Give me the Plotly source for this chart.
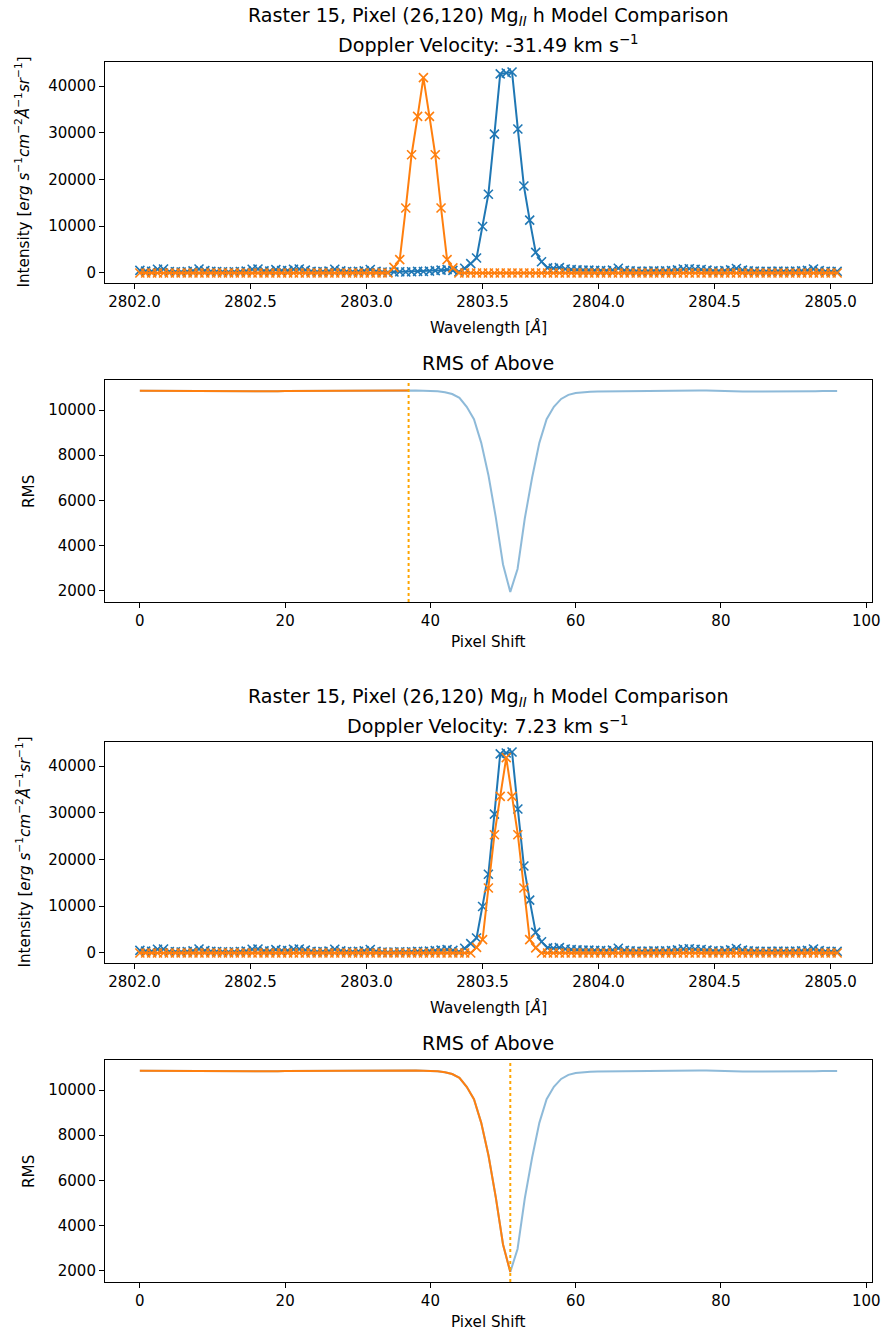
import plotly.graph_objects as go

# ---------------- data ----------------
wavelength = [
    2802.023, 2802.048, 2802.074, 2802.099, 2802.125, 2802.150, 2802.176, 2802.201, 2802.227, 2802.252,
    2802.278, 2802.303, 2802.329, 2802.354, 2802.379, 2802.405, 2802.430, 2802.456, 2802.481, 2802.507,
    2802.532, 2802.558, 2802.583, 2802.609, 2802.634, 2802.660, 2802.685, 2802.710, 2802.736, 2802.761,
    2802.787, 2802.812, 2802.838, 2802.863, 2802.889, 2802.914, 2802.940, 2802.965, 2802.990, 2803.016,
    2803.041, 2803.067, 2803.092, 2803.118, 2803.143, 2803.169, 2803.194, 2803.220, 2803.245, 2803.271,
    2803.296, 2803.321, 2803.347, 2803.372, 2803.398, 2803.423, 2803.449, 2803.474, 2803.500, 2803.525,
    2803.551, 2803.576, 2803.602, 2803.627, 2803.652, 2803.678, 2803.703, 2803.729, 2803.754, 2803.780,
    2803.805, 2803.831, 2803.856, 2803.882, 2803.907, 2803.933, 2803.958, 2803.983, 2804.009, 2804.034,
    2804.060, 2804.085, 2804.111, 2804.136, 2804.162, 2804.187, 2804.213, 2804.238, 2804.263, 2804.289,
    2804.314, 2804.340, 2804.365, 2804.391, 2804.416, 2804.442, 2804.467, 2804.493, 2804.518, 2804.544,
    2804.569, 2804.594, 2804.620, 2804.645, 2804.671, 2804.696, 2804.722, 2804.747, 2804.773, 2804.798,
    2804.824, 2804.849, 2804.875, 2804.900, 2804.926, 2804.951, 2804.977, 2805.002, 2805.028,
]

observed_intensity = [
    550, 400, 350, 800, 850, 300, 250, 200, 300, 450,
    850, 500, 350, 300, 250, 200, 250, 300, 400, 800,
    850, 450, 400, 700, 500, 500, 800, 850, 600, 350,
    250, 300, 400, 800, 450, 300, 250, 350, 450, 750,
    350, 200, 150, 200, 250, 200, 250, 350, 300, 400,
    500, 600, 700, 550, 250, 1000, 2000, 3200, 9950, 16850,
    29700, 42600, 42800, 43000, 30800, 18600, 11300, 4400, 2400, 1100,
    1000, 1150, 850, 700, 650, 600, 600, 550, 500, 450,
    600, 1000, 550, 450, 400, 350, 400, 450, 400, 450,
    500, 650, 850, 900, 800, 750, 600, 450, 400, 500,
    650, 950, 600, 450, 400, 350, 350, 350, 400, 350,
    350, 400, 450, 550, 850, 500, 350, 300, 350,
]

model_line_core = [1200, 2850, 13900, 25300, 33500, 41800, 33500, 25300, 13900, 2850, 1100]
model_core_start = [43, 57]          # wavelength index of first core sample (top, bottom comparisons)

pixel_shift = list(range(97))
rms_values = [
    10860, 10858, 10855, 10852, 10850, 10848, 10845, 10843, 10845, 10848,
    10850, 10848, 10845, 10838, 10830, 10825, 10822, 10828, 10835, 10842,
    10848, 10850, 10852, 10850, 10848, 10850, 10852, 10855, 10862, 10870,
    10878, 10885, 10890, 10892, 10893, 10890, 10885, 10878, 10872, 10866,
    10860, 10845, 10800, 10720, 10550, 10150, 9600, 8550, 7100, 5250,
    3150, 1930, 2950, 5200, 7000, 8550, 9600, 10150, 10500, 10680,
    10760, 10800, 10820, 10830, 10835, 10840, 10842, 10845, 10848, 10850,
    10855, 10862, 10870, 10878, 10885, 10888, 10886, 10880, 10870, 10858,
    10845, 10835, 10830, 10830, 10833, 10838, 10842, 10845, 10848, 10845,
    10840, 10838, 10840, 10845, 10848, 10850, 10850,
]

chosen_shift = [37, 51]
doppler_velocity = ["-31.49", "7.23"]

intensity_ticks = [0, 10000, 20000, 30000, 40000]
intensity_ticktext = ["0", "10000", "20000", "30000", "40000"]
wave_ticks = [2802.0, 2802.5, 2803.0, 2803.5, 2804.0, 2804.5, 2805.0]
wave_ticktext = ["2802.0", "2802.5", "2803.0", "2803.5", "2804.0", "2804.5", "2805.0"]
rms_ticks = [2000, 4000, 6000, 8000, 10000]
rms_ticktext = ["2000", "4000", "6000", "8000", "10000"]
shift_ticks = [0, 20, 40, 60, 80, 100]
shift_ticktext = ["0", "20", "40", "60", "80", "100"]

# ---------------- figure ----------------
W, H = 883, 1334
BLUE = "#1f77b4"
ORANGE = "#ff7f0e"
FONT = "DejaVu Sans"
TICK_FS = 15
TITLE_FS = 19.1
LABEL_FS = 15.2


def placed_model(start):
    arr = [0] * len(wavelength)
    for k, v in enumerate(model_line_core):
        arr[start + k] = v
    return arr


def ydom(top_px, bot_px):
    return [1 - bot_px / H, 1 - top_px / H]


def pad(lo, hi, frac=0.05):
    s = hi - lo
    return [lo - frac * s, hi + frac * s]


xdom = [105 / W, 872 / W]
panels_px = [(62, 283), (380, 602), (742, 963), (1060, 1282)]

fig = go.Figure()

for p in range(2):
    xa = "x%d" % (2 * p + 1) if p else "x"
    ya = "y%d" % (2 * p + 1) if p else "y"
    xr = "x%d" % (2 * p + 2)
    yr = "y%d" % (2 * p + 2)
    model = placed_model(model_core_start[p])
    fig.add_trace(go.Scatter(x=wavelength, y=observed_intensity, mode="lines+markers",
                             line=dict(color=BLUE, width=2),
                             marker=dict(symbol="x-thin", size=9, color=BLUE, line=dict(width=1.6, color=BLUE)),
                             xaxis=xa, yaxis=ya, showlegend=False))
    fig.add_trace(go.Scatter(x=wavelength, y=model, mode="lines+markers",
                             line=dict(color=ORANGE, width=2),
                             marker=dict(symbol="x-thin", size=9, color=ORANGE, line=dict(width=1.6, color=ORANGE)),
                             xaxis=xa, yaxis=ya, showlegend=False))
    s = chosen_shift[p]
    fig.add_trace(go.Scatter(x=pixel_shift, y=rms_values, mode="lines",
                             line=dict(color=BLUE, width=2), opacity=0.5,
                             xaxis=xr, yaxis=yr, showlegend=False))
    fig.add_trace(go.Scatter(x=pixel_shift[:s + 1], y=rms_values[:s + 1], mode="lines",
                             line=dict(color=ORANGE, width=2),
                             xaxis=xr, yaxis=yr, showlegend=False))
    fig.add_shape(type="line", xref=xr, yref=yr + " domain", x0=s, x1=s, y0=0, y1=1,
                  line=dict(color="#FFA500", width=2, dash="dot"), layer="above")

axis_common = dict(showgrid=False, zeroline=False, showline=True, mirror=True,
                   linecolor="black", linewidth=1.1, ticks="outside", ticklen=5,
                   tickwidth=1.1, tickcolor="black", automargin=False,
                   tickfont=dict(family=FONT, size=TICK_FS, color="black"))

wrange = pad(min(wavelength), max(wavelength))
irange = pad(min(observed_intensity + model_line_core + [0]), max(observed_intensity + model_line_core))
srange = pad(min(pixel_shift), max(pixel_shift))
rrange = pad(min(rms_values), max(rms_values))

layout = dict(width=W, height=H, margin=dict(l=0, r=0, t=0, b=0, autoexpand=False),
              paper_bgcolor="white", plot_bgcolor="white", showlegend=False)
for i, (t, b) in enumerate(panels_px):
    n = i + 1
    xk = "xaxis" if n == 1 else "xaxis%d" % n
    yk = "yaxis" if n == 1 else "yaxis%d" % n
    anchor_x = "y" if n == 1 else "y%d" % n
    anchor_y = "x" if n == 1 else "x%d" % n
    if n % 2 == 1:
        xt = dict(range=wrange, tickvals=wave_ticks, ticktext=wave_ticktext)
        yt = dict(range=irange, tickvals=intensity_ticks, ticktext=intensity_ticktext)
    else:
        xt = dict(range=srange, tickvals=shift_ticks, ticktext=shift_ticktext)
        yt = dict(range=rrange, tickvals=rms_ticks, ticktext=rms_ticktext)
    layout[xk] = dict(domain=xdom, anchor=anchor_x, **xt, **axis_common)
    layout[yk] = dict(domain=ydom(t, b), anchor=anchor_y, **yt, **axis_common)

fig.update_layout(**layout)

ann = []


def add_text(text, xpx, ypx, size, angle=0):
    ann.append(dict(text=text, x=xpx / W, y=1 - ypx / H, xref="paper", yref="paper",
                    xanchor="center", yanchor="middle", showarrow=False, textangle=angle,
                    font=dict(family=FONT, size=size, color="black")))


for p in range(2):
    off = 680 * p
    add_text("Raster 15, Pixel (26,120) Mg<sub><i>II</i></sub> h Model Comparison", 488.5, 17 + off, TITLE_FS)
    add_text("Doppler Velocity: %s km s<sup>−1</sup>" % doppler_velocity[p], 488.5, 45 + off, TITLE_FS)
    add_text("RMS of Above", 488.5, 363 + off, TITLE_FS)
    add_text("Wavelength [<i>Å</i>]", 488.5, 327 + off, LABEL_FS)
    add_text("Pixel Shift", 488.5, 642 + off, LABEL_FS)
    add_text("Intensity [<i>erg s</i><sup>−1</sup><i>cm</i><sup>−2</sup><i>Å</i><sup>−1</sup><i>sr</i><sup>−1</sup>]",
             23, 172.5 + off, LABEL_FS, -90)
    add_text("RMS", 29, 491 + off, LABEL_FS, -90)

fig.update_layout(annotations=ann)
fig.write_html("out.html")
